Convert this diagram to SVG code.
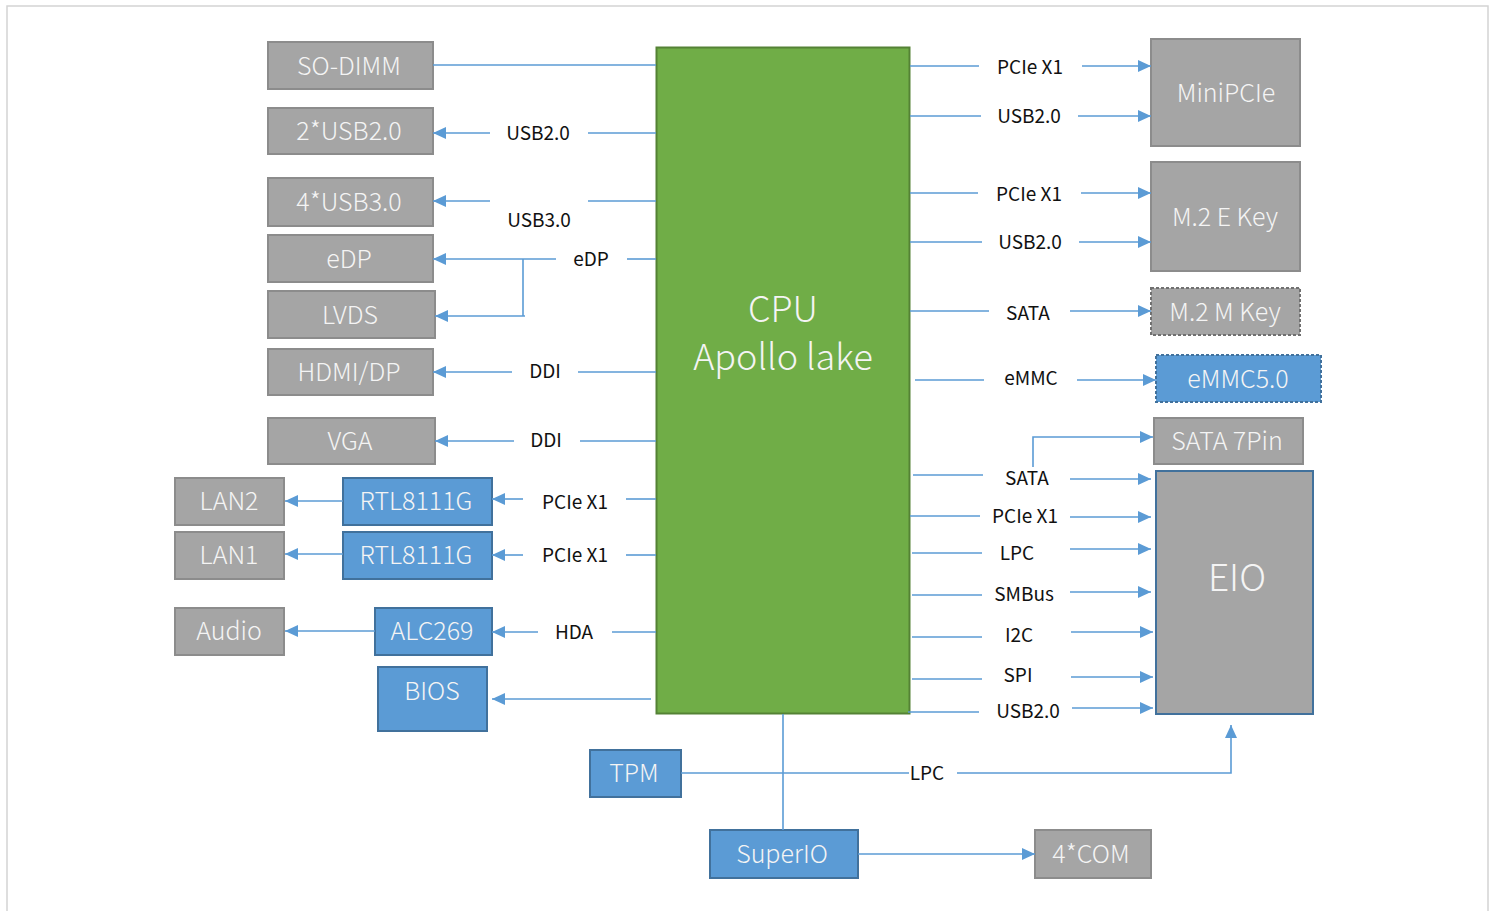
<svg xmlns="http://www.w3.org/2000/svg" width="1497" height="911" viewBox="0 0 1497 911">
<style>
.g{fill:#A5A5A5;stroke:#8C8C8C;stroke-width:2}
.b{fill:#5B9BD5;stroke:#41719C;stroke-width:2}
.bt{font-family:"Noto Sans CJK SC","Noto Sans",sans-serif;font-weight:300;font-size:25px;fill:#F4F4F4;text-anchor:middle;dominant-baseline:central}
.lt{font-family:"Noto Sans CJK SC","Noto Sans",sans-serif;font-size:19px;fill:#111;text-anchor:middle;dominant-baseline:central}
.c line,.c path{stroke:#5B9BD5;stroke-width:1.6;fill:none}
.a{marker-end:url(#ar)}
</style>
<defs>
<marker id="ar" markerUnits="userSpaceOnUse" markerWidth="14" markerHeight="12" refX="13" refY="6" orient="auto">
<path d="M0,0 L13,6 L0,12 z" fill="#5B9BD5"/>
</marker>
</defs>
<rect width="1497" height="911" fill="#fff"/>
<path d="M7,911 L7,6 L1488,6 L1488,911" fill="none" stroke="#D4D4D4" stroke-width="1.5"/>

<g id="cpu">
<rect x="656.5" y="47.5" width="253" height="666" fill="#70AD47" stroke="#548235" stroke-width="2"/>
<text x="783" y="306" class="bt" style="font-size:36px">CPU</text>
<text x="783" y="354" class="bt" style="font-size:36px">Apollo lake</text>
</g>

<g id="sodimm"><rect class="g" x="268" y="42" width="165" height="47"/><text class="bt" x="349" y="64">SO-DIMM</text></g>
<g id="usb2"><rect class="g" x="268" y="108" width="165" height="46"/><text class="bt" x="349" y="129">2*USB2.0</text></g>
<g id="usb3"><rect class="g" x="268" y="178" width="165" height="48"/><text class="bt" x="349" y="200">4*USB3.0</text></g>
<g id="edp"><rect class="g" x="268" y="235" width="165" height="47"/><text class="bt" x="349" y="257">eDP</text></g>
<g id="lvds"><rect class="g" x="268" y="291" width="167" height="47"/><text class="bt" x="350" y="313">LVDS</text></g>
<g id="hdmi"><rect class="g" x="268" y="349" width="165" height="46"/><text class="bt" x="349" y="370">HDMI/DP</text></g>
<g id="vga"><rect class="g" x="268" y="418" width="167" height="46"/><text class="bt" x="350" y="439">VGA</text></g>
<g id="lan2"><rect class="g" x="175" y="478" width="109" height="47"/><text class="bt" x="229" y="499">LAN2</text></g>
<g id="lan1"><rect class="g" x="175" y="532" width="109" height="47"/><text class="bt" x="229" y="553">LAN1</text></g>
<g id="audio"><rect class="g" x="175" y="608" width="109" height="47"/><text class="bt" x="229" y="629">Audio</text></g>
<g id="rtl1"><rect class="b" x="343" y="478" width="149" height="47"/><text class="bt" x="416" y="499">RTL8111G</text></g>
<g id="rtl2"><rect class="b" x="343" y="532" width="149" height="47"/><text class="bt" x="416" y="553">RTL8111G</text></g>
<g id="alc"><rect class="b" x="375" y="608" width="117" height="47"/><text class="bt" x="432" y="629">ALC269</text></g>
<g id="bios"><rect class="b" x="378" y="667" width="109" height="64"/><text class="bt" x="432" y="689">BIOS</text></g>
<g id="tpm"><rect class="b" x="590" y="750" width="91" height="47"/><text class="bt" x="634" y="771">TPM</text></g>
<g id="superio"><rect class="b" x="710" y="830" width="148" height="48"/><text class="bt" x="782" y="852">SuperIO</text></g>
<g id="com"><rect class="g" x="1035" y="830" width="116" height="48"/><text class="bt" x="1091" y="852">4*COM</text></g>

<g id="minipcie"><rect class="g" x="1151" y="39" width="149" height="107"/><text class="bt" x="1226" y="91">MiniPCIe</text></g>
<g id="m2e"><rect class="g" x="1151" y="162" width="149" height="109"/><text class="bt" x="1225" y="215">M.2 E Key</text></g>
<g id="m2m"><rect class="g" x="1151" y="288" width="149" height="47" style="stroke:#707070;stroke-dasharray:3,2"/><text class="bt" x="1225" y="310">M.2 M Key</text></g>
<g id="emmc"><rect class="b" x="1156" y="355" width="165" height="47" style="stroke-dasharray:3,2"/><text class="bt" x="1238" y="377">eMMC5.0</text></g>
<g id="sata7"><rect class="g" x="1154" y="418" width="149" height="46"/><text class="bt" x="1227" y="439">SATA 7Pin</text></g>
<g id="eio"><rect x="1156" y="471" width="157" height="243" fill="#A5A5A5" stroke="#41719C" stroke-width="2"/><text class="bt" x="1237" y="575" style="font-size:37px">EIO</text></g>

<g id="connectors" class="c">
<line x1="433" y1="65" x2="656" y2="65"/>
<line x1="656" y1="133" x2="588" y2="133"/><line class="a" x1="490" y1="133" x2="433" y2="133"/>
<line x1="656" y1="201" x2="588" y2="201"/><line class="a" x1="490" y1="201" x2="433" y2="201"/>
<line x1="656" y1="259" x2="627" y2="259"/><line class="a" x1="556" y1="259" x2="433" y2="259"/>
<path d="M523,259 L523,316"/><line class="a" x1="525" y1="316" x2="435" y2="316"/>
<line x1="656" y1="372" x2="578" y2="372"/><line class="a" x1="512" y1="372" x2="433" y2="372"/>
<line x1="656" y1="441" x2="580" y2="441"/><line class="a" x1="514" y1="441" x2="435" y2="441"/>
<line x1="656" y1="499" x2="626" y2="499"/><line class="a" x1="523" y1="499" x2="492" y2="499"/>
<line x1="656" y1="555" x2="626" y2="555"/><line class="a" x1="523" y1="555" x2="492" y2="555"/>
<line class="a" x1="343" y1="501" x2="285" y2="501"/>
<line class="a" x1="343" y1="554" x2="285" y2="554"/>
<line x1="656" y1="632" x2="612" y2="632"/><line class="a" x1="538" y1="632" x2="492" y2="632"/>
<line class="a" x1="375" y1="631" x2="285" y2="631"/>
<line class="a" x1="651" y1="699" x2="492" y2="699"/>

<line x1="910" y1="66" x2="979" y2="66"/><line class="a" x1="1082" y1="66" x2="1151" y2="66"/>
<line x1="910" y1="116" x2="981" y2="116"/><line class="a" x1="1078" y1="116" x2="1151" y2="116"/>
<line x1="910" y1="193" x2="978" y2="193"/><line class="a" x1="1081" y1="193" x2="1151" y2="193"/>
<line x1="910" y1="242" x2="982" y2="242"/><line class="a" x1="1079" y1="242" x2="1151" y2="242"/>
<line x1="910" y1="311" x2="989" y2="311"/><line class="a" x1="1070" y1="311" x2="1151" y2="311"/>
<line x1="915" y1="380" x2="984" y2="380"/><line class="a" x1="1077" y1="380" x2="1156" y2="380"/>
<line x1="913" y1="475" x2="983" y2="475"/><line class="a" x1="1070" y1="479" x2="1151" y2="479"/>
<path class="a" d="M1033,467 L1033,437 L1153,437"/>
<line x1="910" y1="516" x2="980" y2="516"/><line class="a" x1="1070" y1="517" x2="1151" y2="517"/>
<line x1="912" y1="553" x2="982" y2="553"/><line class="a" x1="1070" y1="549" x2="1151" y2="549"/>
<line x1="912" y1="595" x2="982" y2="595"/><line class="a" x1="1070" y1="592" x2="1151" y2="592"/>
<line x1="912" y1="637" x2="982" y2="637"/><line class="a" x1="1071" y1="632" x2="1153" y2="632"/>
<line x1="912" y1="679" x2="982" y2="679"/><line class="a" x1="1071" y1="677" x2="1153" y2="677"/>
<line x1="908" y1="712" x2="979" y2="712"/><line class="a" x1="1072" y1="708" x2="1153" y2="708"/>

<line x1="783" y1="714" x2="783" y2="830"/>
<line x1="681" y1="773" x2="909" y2="773"/>
<path class="a" d="M957,773 L1231,773 L1231,725"/>
<line class="a" x1="858" y1="854" x2="1035" y2="854"/>
</g>

<g id="labels">
<text class="lt" x="538" y="131">USB2.0</text>
<text class="lt" x="539" y="218">USB3.0</text>
<text class="lt" x="591" y="257">eDP</text>
<text class="lt" x="545" y="369">DDI</text>
<text class="lt" x="546" y="438">DDI</text>
<text class="lt" x="575" y="500">PCIe X1</text>
<text class="lt" x="575" y="553">PCIe X1</text>
<text class="lt" x="574" y="630">HDA</text>
<text class="lt" x="1030" y="65">PCIe X1</text>
<text class="lt" x="1029" y="114">USB2.0</text>
<text class="lt" x="1029" y="192">PCIe X1</text>
<text class="lt" x="1030" y="240">USB2.0</text>
<text class="lt" x="1028" y="311">SATA</text>
<text class="lt" x="1031" y="376">eMMC</text>
<text class="lt" x="1027" y="476">SATA</text>
<text class="lt" x="1025" y="514">PCIe X1</text>
<text class="lt" x="1017" y="551">LPC</text>
<text class="lt" x="1024" y="592">SMBus</text>
<text class="lt" x="1019" y="633">I2C</text>
<text class="lt" x="1018" y="673">SPI</text>
<text class="lt" x="1028" y="709">USB2.0</text>
<text class="lt" x="927" y="771">LPC</text>
</g>
</svg>
